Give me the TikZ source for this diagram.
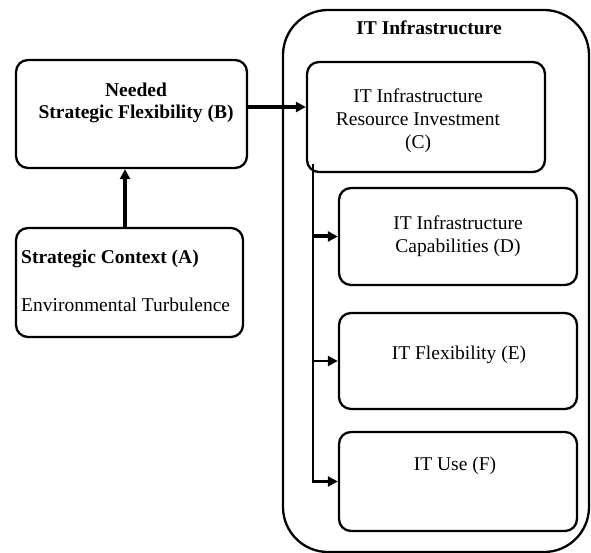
\documentclass[tikz,border=0pt]{standalone}
\usepackage{fontspec}
\setmainfont{Liberation Serif}
\usetikzlibrary{arrows.meta}
\begin{document}
\begin{tikzpicture}[x=1pt,y=-1pt,
  box/.style={draw, line width=2.3pt, rounded corners=12pt, inner sep=0pt},
  outer/.style={draw, line width=2.3pt, rounded corners=45pt, inner sep=0pt},
  txt/.style={font=\fontsize{19.5}{23}\selectfont, align=center, inner sep=0pt},
  arr/.style={line width=3.2pt, -{Triangle[length=10pt,width=10pt]}},
  trunk/.style={line width=2.5pt}]
\useasboundingbox (0,0) rectangle (591,553);
% outer container
\node[outer, minimum width=306pt, minimum height=542pt] (IT) at (436,281) {};
\node[txt, font=\fontsize{19.5}{23}\selectfont\bfseries] (ITt) at (429,28) {IT Infrastructure};
% boxes
\node[box, minimum width=231pt, minimum height=108pt] (B) at (131.5,114) {};
\node[box, minimum width=227pt, minimum height=109pt] (A) at (129.5,282.5) {};
\node[box, minimum width=238pt, minimum height=110pt] (C) at (426,117) {};
\node[box, minimum width=238pt, minimum height=97pt] (D) at (458,236.5) {};
\node[box, minimum width=238pt, minimum height=96pt] (E) at (458,361) {};
\node[box, minimum width=238pt, minimum height=99pt] (F) at (458,481.5) {};
% texts
\node[txt, font=\fontsize{19.5}{22}\selectfont\bfseries] (Bt) at (136,103) {Needed\\Strategic Flexibility (B)};
\node[txt, anchor=west, font=\fontsize{19.5}{23}\selectfont\bfseries] (At1) at (21,259) {Strategic Context (A)};
\node[txt, anchor=west] (At2) at (21,305) {Environmental Turbulence};
\node[txt] (Ct) at (418,121) {IT Infrastructure\\Resource Investment\\(C)};
\node[txt] (Dt) at (458,236) {IT Infrastructure\\Capabilities (D)};
\node[txt] (Et) at (459,355) {IT Flexibility (E)};
\node[txt] (Ft) at (455,466) {IT Use (F)};
% connectors
\draw[arr] ([yshift=7pt]B.east) -- ([yshift=10pt]C.west);
\draw[arr] ([xshift=-4.5pt]A.north) -- ([xshift=-4.5pt]A.north |- B.south);
\coordinate (t0) at (313,164);
\draw[trunk] (t0) -- (t0 |- F.west);
\draw[arr] ([xshift=-1.2pt]t0 |- F.west) -- (F.west);
\draw[arr, line width=4pt] ([xshift=-1.2pt]t0 |- D.west) -- (D.west);
\draw[arr, line width=2.8pt] ([xshift=-1.2pt]t0 |- E.west) -- (E.west);
\end{tikzpicture}
\end{document}
